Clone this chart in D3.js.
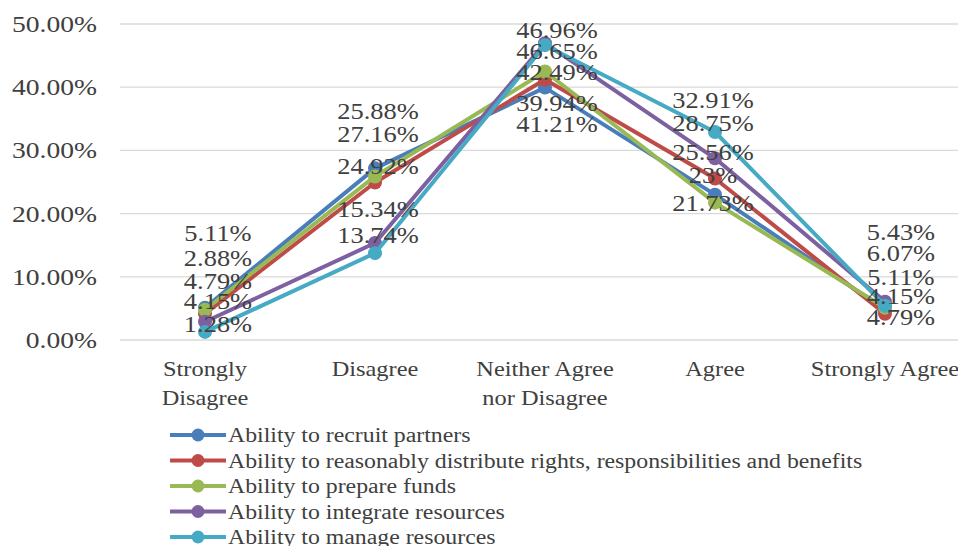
<!DOCTYPE html>
<html>
<head>
<meta charset="utf-8">
<script src="https://cdn.jsdelivr.net/npm/d3@7/dist/d3.min.js"></script>
<style>
  body { margin: 0; background: #fff; }
  text { font-family: "Liberation Serif", "Times New Roman", serif; fill: #404040; }
</style>
</head>
<body>
<svg class="chart"></svg>
<script>
var categories = [["Strongly", "Disagree"], ["Disagree"], ["Neither Agree", "nor Disagree"], ["Agree"], ["Strongly Agree"]];
var seriesNames = [
    "Ability to recruit partners",
    "Ability to reasonably distribute rights, responsibilities and benefits",
    "Ability to prepare funds",
    "Ability to integrate resources",
    "Ability to manage resources"
];
var recruit    = [5.11, 27.16, 39.94, 23.00, 4.79];
var distribute = [4.15, 24.92, 41.21, 25.56, 4.15];
var funds      = [4.79, 25.88, 42.49, 21.73, 5.11];
var integrate  = [2.88, 15.34, 46.96, 28.75, 6.07];
var manage     = [1.28, 13.74, 46.65, 32.91, 5.43];
var yTicks = [0, 10, 20, 30, 40, 50];
// top-to-bottom order of the value labels at each category (series index)
var labelOrder = [[0, 3, 2, 1, 4], [2, 0, 1, 3, 4], [3, 4, 2, 0, 1], [4, 3, 1, 0, 2], [4, 3, 2, 1, 0]];

var colors = ["#4a7ebb", "#be4b48", "#98b954", "#7d60a0", "#46aac5"];
var allSeries = [recruit, distribute, funds, integrate, manage];

var width = 958, height = 546;
// where the (hand placed) value labels sit, pixels
var labelDx = [13, 3, 12, -2, 16];
var labelRows = [
    [233, 258, 281, 301, 324],
    [111, 134, 166, 209, 235],
    [30, 51, 72, 103, 124],
    [100, 123, 152, 175, 203],
    [232, 253, 277, 296, 317]
];

var svg = d3.select(".chart").attr("width", width).attr("height", height);

var x = d3.scaleBand()
    .domain(d3.range(categories.length))
    .range([120, 970])
    .padding(0);
var y = d3.scaleLinear().domain([0, 50]).range([340, 24]);

function cx(i) { return x(i) + x.bandwidth() / 2; }

function stretchedText(sel, size, anchor, x0, y0, sx) {
    return sel.append("text")
        .attr("font-size", size)
        .attr("text-anchor", anchor)
        .attr("dy", "0.35em")
        .attr("transform", "translate(" + x0 + "," + y0 + ") scale(" + sx + ",1)");
}

// gridlines
svg.selectAll(".grid")
    .data(yTicks)
  .enter().append("line")
    .attr("class", "grid")
    .attr("x1", 120).attr("x2", width)
    .attr("y1", function(d) { return y(d); })
    .attr("y2", function(d) { return y(d); })
    .attr("stroke", "#d9d9d9")
    .attr("stroke-width", 1.3);

// y tick labels
yTicks.forEach(function(t) {
    stretchedText(svg, 23, "end", 97, y(t), 1.2)
        .text(d3.format(".2f")(t) + "%");
});

// category labels
categories.forEach(function(lines, i) {
    lines.forEach(function(line, j) {
        stretchedText(svg, 20, "middle", cx(i), 369 + j * 29, 1.22)
            .text(line);
    });
});

var line = d3.line()
    .x(function(d, i) { return cx(i); })
    .y(function(d) { return y(d); });

allSeries.forEach(function(vals, s) {
    var g = svg.append("g");
    g.append("path")
        .datum(vals)
        .attr("d", line)
        .attr("fill", "none")
        .attr("stroke", colors[s])
        .attr("stroke-width", 4)
        .attr("stroke-linejoin", "round");
    g.selectAll("circle")
        .data(vals)
      .enter().append("circle")
        .attr("cx", function(d, i) { return cx(i); })
        .attr("cy", function(d) { return y(d); })
        .attr("r", 7)
        .attr("fill", colors[s]);
});

// value labels
labelOrder.forEach(function(order, i) {
    order.forEach(function(s, k) {
        stretchedText(svg, 23, "middle", cx(i) + labelDx[i], labelRows[i][k], 1.15)
            .text(allSeries[s][i] + "%");
    });
});

// legend
var legend = svg.selectAll(".legend")
    .data(seriesNames)
  .enter().append("g")
    .attr("class", "legend")
    .attr("transform", function(d, i) { return "translate(0," + (435 + i * 25.5) + ")"; });
legend.append("line")
    .attr("x1", 170).attr("x2", 226)
    .attr("stroke", function(d, i) { return colors[i]; })
    .attr("stroke-width", 4);
legend.append("circle")
    .attr("cx", 198).attr("r", 6.5)
    .attr("fill", function(d, i) { return colors[i]; });
legend.append("text")
    .attr("font-size", 20)
    .attr("dy", "0.35em")
    .attr("transform", "translate(228,0) scale(1.19,1)")
    .text(function(d) { return d; });
</script>
</body>
</html>
